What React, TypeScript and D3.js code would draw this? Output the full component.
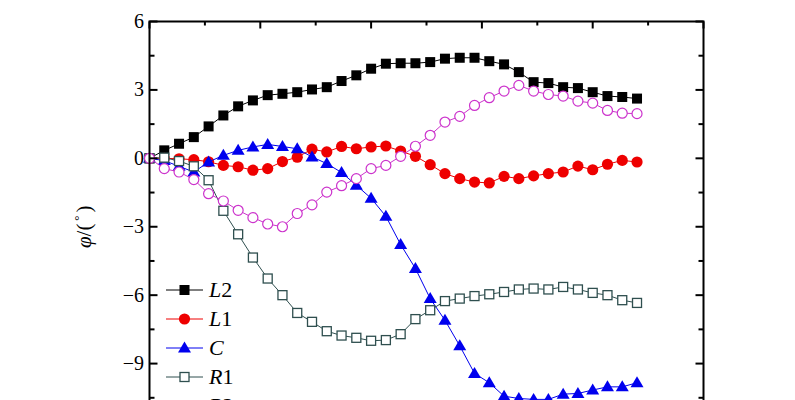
import React from "react";
import * as d3 from "d3";

const xValues = [0,4,8,12,16,20,24,28,32,36,40,44,48,52,56,60,64,68,72,76,80,84,88,92,96,100,104,108,112,116,120,124,128,132];

const L2 = [0,0.35,0.64,0.93,1.40,1.88,2.28,2.54,2.77,2.83,2.90,3.02,3.12,3.39,3.64,3.93,4.15,4.17,4.17,4.22,4.37,4.41,4.41,4.26,4.12,3.78,3.34,3.30,3.12,3.08,2.90,2.73,2.69,2.62];
const L1 = [0,0.0,-0.02,-0.06,-0.15,-0.31,-0.37,-0.52,-0.45,-0.14,0.05,0.40,0.28,0.52,0.42,0.50,0.54,0.32,0.09,-0.28,-0.67,-0.89,-1.04,-1.08,-0.79,-0.89,-0.77,-0.67,-0.60,-0.34,-0.50,-0.26,-0.09,-0.16];
const C = [0,-0.1,-0.35,-0.60,-0.16,0.13,0.35,0.50,0.61,0.52,0.42,0.06,-0.23,-0.62,-1.18,-1.75,-2.54,-3.78,-4.83,-6.15,-7.10,-8.22,-9.43,-9.84,-10.43,-10.53,-10.57,-10.57,-10.34,-10.31,-10.16,-10.02,-10.02,-9.84];
const R1 = [0,0.03,-0.12,-0.35,-0.96,-2.30,-3.33,-4.35,-5.27,-6.0,-6.78,-7.17,-7.58,-7.77,-7.87,-8.0,-7.97,-7.71,-7.05,-6.66,-6.26,-6.15,-6.04,-5.96,-5.86,-5.75,-5.71,-5.75,-5.64,-5.75,-5.90,-6.0,-6.22,-6.34];
const R2 = [0,-0.45,-0.60,-0.93,-1.55,-1.87,-2.28,-2.60,-2.88,-3.0,-2.42,-2.04,-1.48,-1.20,-0.89,-0.45,-0.31,0.09,0.53,1.01,1.59,1.84,2.32,2.66,2.95,3.20,2.95,2.80,2.73,2.51,2.42,2.10,1.98,1.96];

const seriesNames = ["L2", "L1", "C", "R1", "R2"];
const yTicks = [6, 3, 0, -3, -6, -9, -12];

type Marker = "sq" | "circ" | "tri" | "osq" | "ocirc";
const seriesDefs: { name: string; values: number[]; color: string; marker: Marker }[] = [
  { name: "L2", values: L2, color: "#000000", marker: "sq" },
  { name: "L1", values: L1, color: "#ee0000", marker: "circ" },
  { name: "C", values: C, color: "#0000ee", marker: "tri" },
  { name: "R1", values: R1, color: "#2f4f4f", marker: "osq" },
  { name: "R2", values: R2, color: "#cc33cc", marker: "ocirc" },
];

const left = 149.5, right = 703.5, top = 21.5, bottom = 432;
const x = d3.scaleLinear().domain([0, 150]).range([left, right]);
const y = d3.scaleLinear().domain([-12, 6]).range([bottom, top]);

function MarkerShape({ m, cx, cy, color }: { m: Marker; cx: number; cy: number; color: string }) {
  switch (m) {
    case "sq":
      return <rect x={cx - 5} y={cy - 5} width={10} height={10} fill={color} />;
    case "circ":
      return <circle cx={cx} cy={cy} r={5.6} fill={color} />;
    case "tri": {
      const p = `${cx},${cy - 6.5} ${cx + 6.5},${cy + 4.5} ${cx - 6.5},${cy + 4.5}`;
      return <polygon points={p} fill={color} />;
    }
    case "osq":
      return <rect x={cx - 4.5} y={cy - 4.5} width={9} height={9} fill="#fff" stroke={color} strokeWidth={1.3} />;
    case "ocirc":
      return <circle cx={cx} cy={cy} r={5} fill="#fff" stroke={color} strokeWidth={1.2} />;
  }
  return null;
}

export default function App() {
  const line = d3.line<number>().x((_, i) => x(xValues[i])).y((v) => y(v));
  const xMajor = d3.range(0, 151, 30);
  const xMinor = d3.range(15, 150, 30);
  const yMinor = d3.range(-10.5, 6, 3);
  const font = "Liberation Serif";
  const legendY0 = 290, legendStep = 29;
  return (
    <svg width={795} height={400} style={{ position: "absolute", left: 0, top: 0, background: "#fff" }}>
      <rect x={0} y={0} width={795} height={400} fill="#fff" />
      {seriesDefs.map((s) => (
        <g key={s.name}>
          <path d={line(s.values) || ""} fill="none" stroke={s.color} strokeWidth={1} />
          {s.values.map((v, i) => (
            <MarkerShape key={i} m={s.marker} cx={x(xValues[i])} cy={y(v)} color={s.color} />
          ))}
        </g>
      ))}
      <rect x={left} y={top} width={right - left} height={bottom - top} fill="none" stroke="#000" strokeWidth={2} />
      {xMajor.map((t) => (
        <line key={"tM" + t} x1={x(t)} x2={x(t)} y1={top} y2={top + 7} stroke="#000" strokeWidth={2} />
      ))}
      {xMinor.map((t) => (
        <line key={"tm" + t} x1={x(t)} x2={x(t)} y1={top} y2={top + 4} stroke="#000" strokeWidth={2} />
      ))}
      {xMajor.map((t) => (
        <line key={"bM" + t} x1={x(t)} x2={x(t)} y1={bottom} y2={bottom - 7} stroke="#000" strokeWidth={2} />
      ))}
      {yTicks.map((t) => (
        <g key={"y" + t}>
          <line x1={left} x2={left + 8} y1={y(t)} y2={y(t)} stroke="#000" strokeWidth={2} />
          <line x1={right} x2={right - 8} y1={y(t)} y2={y(t)} stroke="#000" strokeWidth={2} />
          <text x={144} y={y(t) + 6.5} textAnchor="end" fontFamily={font} fontSize={20} fill="#000">
            {t < 0 ? "\u2212" + Math.abs(t) : String(t)}
          </text>
        </g>
      ))}
      {yMinor.map((t) => (
        <g key={"ym" + t}>
          <line x1={left} x2={left + 5} y1={y(t)} y2={y(t)} stroke="#000" strokeWidth={2} />
          <line x1={right} x2={right - 5} y1={y(t)} y2={y(t)} stroke="#000" strokeWidth={2} />
        </g>
      ))}
      <text transform={`translate(91,${(top + bottom) / 2}) rotate(-90)`} textAnchor="middle" fontFamily={font} fontSize={21} fill="#000">
        <tspan fontStyle="italic">φ</tspan>
        <tspan>/(</tspan>
        <tspan fontSize={13} dx={3} dy={-8}>°</tspan>
        <tspan dx={3} dy={8}>)</tspan>
      </text>
      {seriesDefs.map((s, i) => {
        const ly = legendY0 + i * legendStep;
        const name = seriesNames[i];
        const letter = name[0];
        const digit = name.slice(1);
        return (
          <g key={"lg" + s.name}>
            <line x1={166} x2={203} y1={ly} y2={ly} stroke={s.color} strokeWidth={1} />
            <MarkerShape m={s.marker} cx={184.5} cy={ly} color={s.color} />
            <text x={209} y={ly + 7} fontFamily={font} fontSize={22} fill="#000">
              <tspan fontStyle="italic">{letter}</tspan>
              {digit && <tspan>{digit}</tspan>}
            </text>
          </g>
        );
      })}
    </svg>
  );
}
